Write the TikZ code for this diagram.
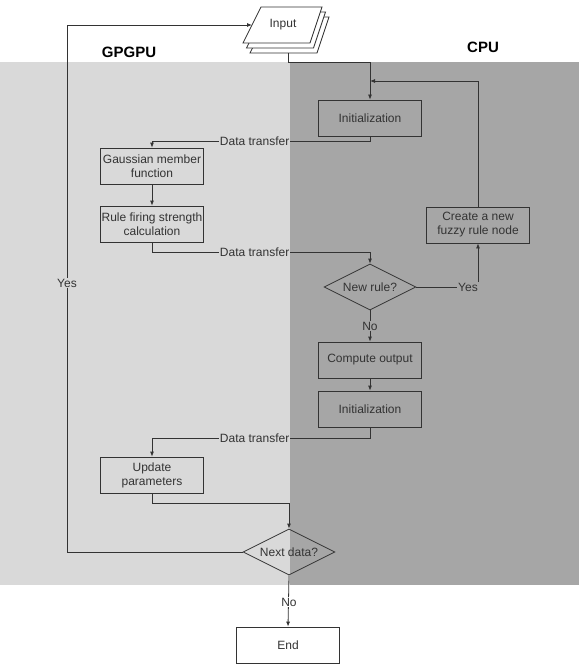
\documentclass[tikz,border=0pt]{standalone}
\usepackage{fontspec}
\setmainfont{Liberation Sans}
\usetikzlibrary{shapes.geometric,arrows.meta}
\definecolor{lg}{HTML}{D9D9D9}
\definecolor{dg}{HTML}{A6A6A6}
\definecolor{ln}{HTML}{333333}
\begin{document}
\begin{tikzpicture}[x=1pt,y=-1pt,
 every node/.style={font=\fontsize{12}{14}\selectfont, text=ln},
 box/.style={draw=ln, line width=0.8pt, minimum width=103pt, minimum height=36pt, inner sep=1pt, align=center},
 dia/.style={diamond, draw=ln, line width=0.8pt, minimum width=92pt, minimum height=46pt, inner sep=0pt},
 conn/.style={draw=ln, line width=0.8pt},
 arr/.style={conn, -{Latex[length=5pt,width=4pt]}},
 lab/.style={inner sep=1pt},
 title/.style={font=\fontsize{15}{18}\selectfont\bfseries, text=black}
]
\useasboundingbox (0,0) rectangle (579,666);
\fill[white] (0,0) rectangle (579,666);
\fill[lg] (0,62) rectangle (290,585);
\fill[dg] (290,62) rectangle (579,585);

% input stack
\foreach \dx/\dy in {7/10, 3.5/5, 0/0}
  \filldraw[fill=white,draw=ln,line width=0.8pt,shift={(\dx,\dy)}] (261,7) -- (322,7) -- (310,43) -- (243,43) -- cycle;
\node (input) at (283,25) {Input};
\coordinate (inL) at (252,25);
\coordinate (inB) at (288,53);

\node[title] (gp) at (129,52) {GPGPU};
\node[title] (cpu) at (483,47) {CPU};

\node[box] (init1) at (370,118) {Initialization};
\node[box] (gauss) at (152,166) {Gaussian member\\function};
\node[box] (rule) at (152,224) {Rule firing strength\\calculation};
\node[dia] (newrule) at (370,287) {\makebox[0pt]{New rule?}};
\node[box] (create) at (478,225) {Create a new\\fuzzy rule node};
\node[box] (comp) at (370,360) {Compute output};
\node[box] (init2) at (370,409) {Initialization};
\node[box] (upd) at (152,475) {Update\\parameters};
\node[dia] (next) at (289,552) {\makebox[0pt]{Next data?}};
\node[box, fill=white] (end) at (288,645) {End};

\coordinate (top) at (288,62);
\coordinate (fb) at (370,81);
\coordinate (d1) at (370,141);
\coordinate (d2) at (370,252);
\coordinate (d3) at (370,438);
\coordinate (d4) at (289,503);
\coordinate (yc) at (478,287);
\coordinate (yl) at (67,552);

\draw[arr] (inB) -- (top) -| (init1.north);
\draw[arr] (create.north) |- (fb);
\draw[arr] (init1.south) -- (d1) -| (gauss.north);
\draw[arr] (gauss) -- (rule);
\draw[arr] (rule.south) |- (d2) -- (newrule.north);
\draw[arr] (newrule.east) -- (yc) -- (create.south);
\draw[arr] (newrule) -- (comp);
\draw[arr] (comp) -- (init2);
\draw[arr] (init2.south) -- (d3) -| (upd.north);
\draw[arr] (upd.south) |- (d4) -- (next.north);
\draw[arr] (next.west) -- (yl) |- (inL);
\draw[arr] (next.south) -- (end.north);

\node[lab, fill=lg, anchor=east] (dt1) at (290.5,141) {Data transfer};
\node[lab, fill=lg, anchor=east] (dt2) at (290.5,252) {Data transfer};
\node[lab, fill=lg, anchor=east] (dt3) at (290.5,438) {Data transfer};
\node[lab, fill=dg] (yes1) at (468,287) {Yes};
\node[lab, fill=dg] (no1) at (370,326) {No};
\node[lab, fill=lg] (yes2) at (67,283) {Yes};
\node[lab, fill=white] (no2) at (289,602) {No};
\end{tikzpicture}
\end{document}
